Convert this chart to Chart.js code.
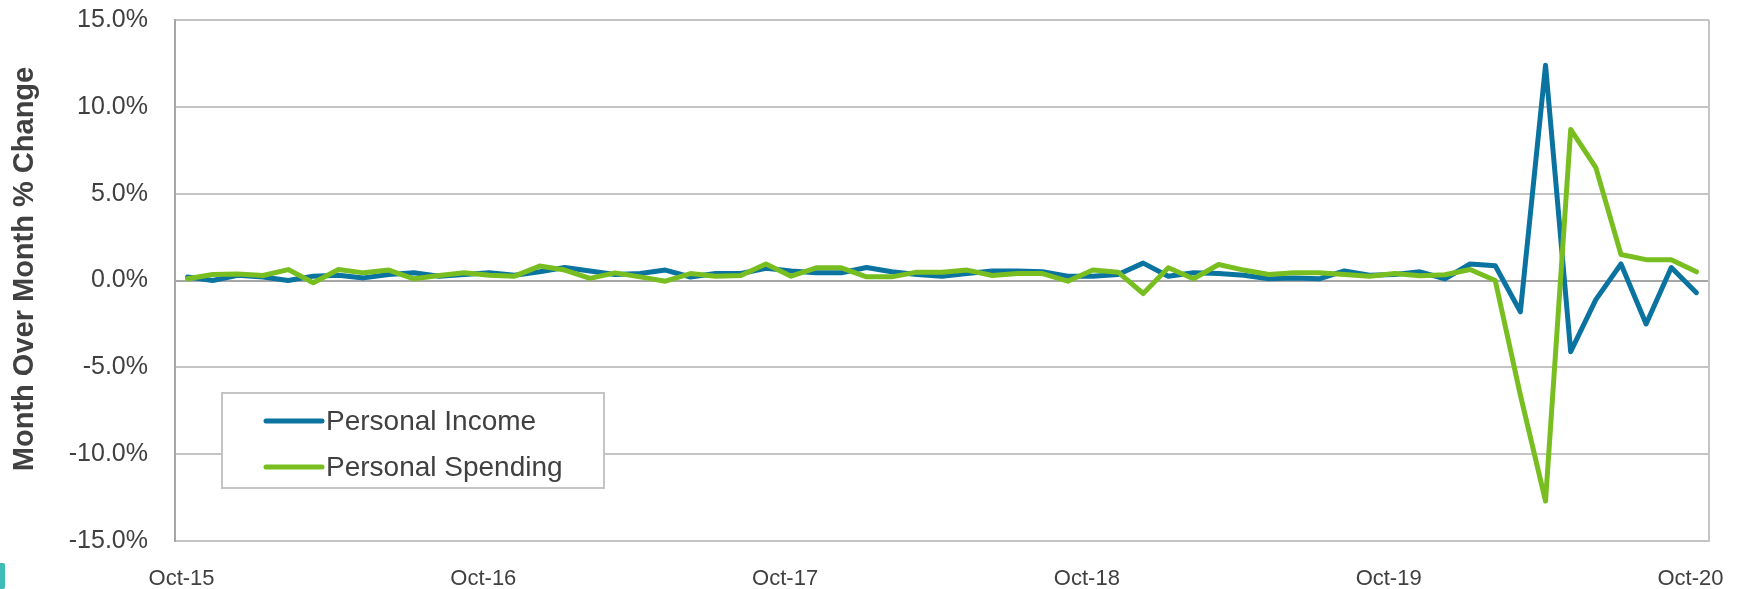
<!DOCTYPE html>
<html>
<head>
<meta charset="utf-8">
<script src="https://cdn.jsdelivr.net/npm/chart.js@4/dist/chart.umd.min.js"></script>
<style>
  html, body { margin: 0; padding: 0; background: #ffffff; }
  #wrap { position: relative; width: 1752px; height: 589px; }
  #mark { position: absolute; left: 0; top: 563px; width: 5px; height: 26px; background: #3fbcb6; border-radius: 0 2px 2px 0; }
</style>
</head>
<body>
<div id="wrap">
  <canvas id="c" width="1752" height="589"></canvas>
  <div id="mark"></div>
</div>
<script>
const categories = ['Oct-15','Nov-15','Dec-15','Jan-16','Feb-16','Mar-16','Apr-16','May-16','Jun-16','Jul-16','Aug-16','Sep-16',
  'Oct-16','Nov-16','Dec-16','Jan-17','Feb-17','Mar-17','Apr-17','May-17','Jun-17','Jul-17','Aug-17','Sep-17',
  'Oct-17','Nov-17','Dec-17','Jan-18','Feb-18','Mar-18','Apr-18','May-18','Jun-18','Jul-18','Aug-18','Sep-18',
  'Oct-18','Nov-18','Dec-18','Jan-19','Feb-19','Mar-19','Apr-19','May-19','Jun-19','Jul-19','Aug-19','Sep-19',
  'Oct-19','Nov-19','Dec-19','Jan-20','Feb-20','Mar-20','Apr-20','May-20','Jun-20','Jul-20','Aug-20','Sep-20','Oct-20'];

const tickLabels = ['Oct-15','Oct-16','Oct-17','Oct-18','Oct-19','Oct-20'];

const personalIncome = [0.2, 0.0, 0.3, 0.2, 0.0, 0.25, 0.3, 0.15, 0.35, 0.45, 0.25, 0.35,
  0.45, 0.3, 0.5, 0.75, 0.55, 0.35, 0.4, 0.6, 0.2, 0.4, 0.4, 0.7,
  0.55, 0.45, 0.45, 0.75, 0.5, 0.35, 0.25, 0.4, 0.55, 0.55, 0.5, 0.25,
  0.25, 0.35, 1.0, 0.25, 0.45, 0.4, 0.3, 0.1, 0.15, 0.1, 0.55, 0.3,
  0.35, 0.5, 0.1, 0.95, 0.85, -1.8, 12.4, -4.1, -1.1, 0.95, -2.5, 0.75, -0.7];

const personalSpending = [0.1, 0.35, 0.38, 0.29, 0.63, -0.13, 0.63, 0.44, 0.6, 0.1, 0.29, 0.44,
  0.3, 0.25, 0.83, 0.6, 0.12, 0.44, 0.21, -0.04, 0.4, 0.25, 0.29, 0.95,
  0.25, 0.73, 0.73, 0.21, 0.21, 0.48, 0.48, 0.6, 0.29, 0.4, 0.4, -0.04,
  0.6, 0.48, -0.75, 0.73, 0.1, 0.92, 0.6, 0.35, 0.44, 0.44, 0.35, 0.25,
  0.4, 0.27, 0.33, 0.63, 0.0, -6.6, -12.7, 8.7, 6.5, 1.5, 1.2, 1.2, 0.5];

const seriesNames = ['Personal Income', 'Personal Spending'];
const yTicks = [-15, -10, -5, 0, 5, 10, 15];
const yTitle = 'Month Over Month % Change';

const FONT = "'Liberation Sans', Arial, sans-serif";
const TEXT = '#404040';

const overlay = {
  id: 'overlay',
  afterDraw(chart) {
    const ctx = chart.ctx;
    const a = chart.chartArea;
    ctx.save();
    ctx.strokeStyle = '#c4c4c4';
    ctx.lineWidth = 2;
    ctx.beginPath();
    ctx.moveTo(a.right, a.top);
    ctx.lineTo(a.right, a.bottom);
    ctx.stroke();
    ctx.save();
    ctx.translate(25, 269);
    ctx.rotate(-Math.PI / 2);
    ctx.fillStyle = TEXT;
    ctx.font = 'bold 29px ' + FONT;
    ctx.textAlign = 'center';
    ctx.textBaseline = 'middle';
    ctx.fillText(yTitle, 0, 0);
    ctx.restore();
    const bx = a.left + 47, by = 393, bw = 382, bh = 95;
    ctx.fillStyle = '#ffffff';
    ctx.fillRect(bx, by, bw, bh);
    ctx.strokeStyle = '#c4c4c4';
    ctx.lineWidth = 2;
    ctx.strokeRect(bx, by, bw, bh);
    const sets = [chart.data.datasets[1], chart.data.datasets[0]];
    const rows = [421, 467];
    sets.forEach((ds, i) => {
      const y = rows[i];
      ctx.strokeStyle = ds.borderColor;
      ctx.lineWidth = 5;
      ctx.lineCap = 'round';
      ctx.beginPath();
      ctx.moveTo(bx + 44, y);
      ctx.lineTo(bx + 100, y);
      ctx.stroke();
      ctx.fillStyle = TEXT;
      ctx.font = '28px ' + FONT;
      ctx.textBaseline = 'middle';
      ctx.textAlign = 'left';
      ctx.fillText(ds.label, bx + 104, y + 1);
    });
    ctx.restore();
  }
};

new Chart(document.getElementById('c'), {
  type: 'line',
  data: {
    labels: categories,
    datasets: [
      {
        label: seriesNames[1],
        data: personalSpending,
        borderColor: '#78be20',
        backgroundColor: '#78be20',
        borderWidth: 5,
        pointRadius: 0,
        tension: 0,
        borderJoinStyle: 'round',
        borderCapStyle: 'round',
        order: 0
      },
      {
        label: seriesNames[0],
        data: personalIncome,
        borderColor: '#0a73a0',
        backgroundColor: '#0a73a0',
        borderWidth: 5,
        pointRadius: 0,
        tension: 0,
        borderJoinStyle: 'round',
        borderCapStyle: 'round',
        order: 1
      }
    ]
  },
  options: {
    responsive: false,
    animation: false,
    layout: { autoPadding: false, padding: { left: 0, top: 20, right: 43, bottom: 0 } },
    plugins: { legend: { display: false }, tooltip: { enabled: false } },
    scales: {
      x: {
        offset: true,
        grid: { display: false, drawTicks: false },
        border: { display: true, color: '#c4c4c4', width: 2 },
        ticks: {
          autoSkip: false,
          maxRotation: 0,
          minRotation: 0,
          padding: 25,
          labelOffset: -6,
          color: TEXT,
          font: { family: FONT, size: 22 },
          callback: function (v, i) {
            const l = categories[i];
            return tickLabels.includes(l) ? l : '';
          }
        },
        afterFit(scale) { scale.height = 48; scale.paddingLeft = 0; scale.paddingRight = 0; }
      },
      y: {
        min: yTicks[0],
        max: yTicks[yTicks.length - 1],
        afterBuildTicks(scale) { scale.ticks = yTicks.map(v => ({ value: v })); },
        grid: {
          drawTicks: false,
          lineWidth: 2,
          color: ctx => (ctx.tick && ctx.tick.value === 0) ? '#a6a6a6' : '#c4c4c4'
        },
        border: { display: true, color: '#a6a6a6', width: 2 },
        ticks: {
          padding: 27,
          color: TEXT,
          font: { family: FONT, size: 25 },
          callback: v => v.toFixed(1) + '%'
        },
        afterFit(scale) { scale.width = 175; scale.paddingTop = 0; scale.paddingBottom = 0; }
      }
    }
  },
  plugins: [overlay]
});
</script>
</body>
</html>
